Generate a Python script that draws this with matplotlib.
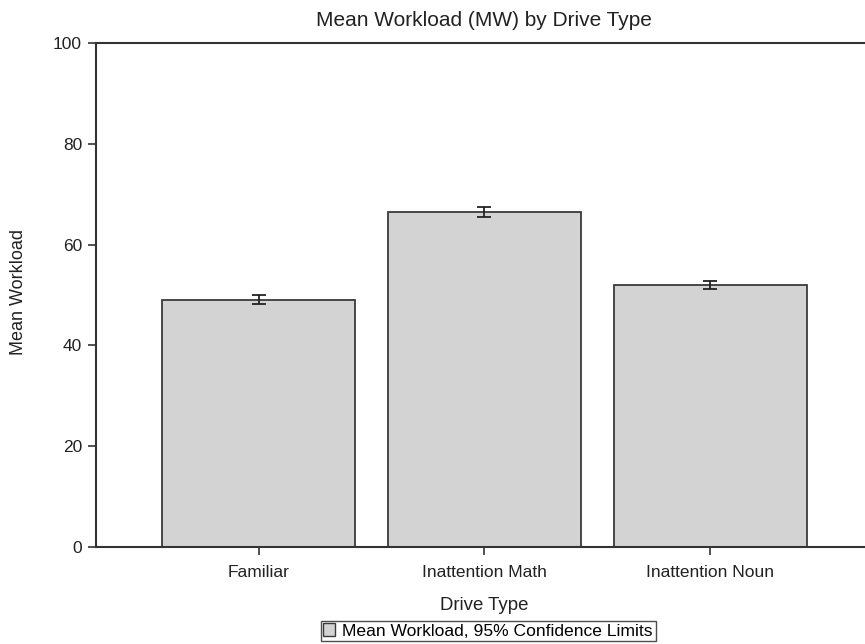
import matplotlib
matplotlib.use("Agg")
import matplotlib.pyplot as plt
from matplotlib.patches import Patch

categories = ["Familiar", "Inattention Math", "Inattention Noun"]
means = [49.0, 66.5, 52.0]
lower = [48.2, 65.5, 51.2]
upper = [50.0, 67.5, 52.8]
yticks = [0, 20, 40, 60, 80, 100]

plt.rcParams['font.family'] = ['Liberation Sans', 'DejaVu Sans']
W, H = 865, 644
fig = plt.figure(figsize=(W / 100, H / 100), dpi=100)
ax = fig.add_axes([96 / W, 1 - 547 / H, 777 / W, 504 / H])

x = list(range(len(categories)))
err = [[m - l for m, l in zip(means, lower)], [u - m for m, u in zip(means, upper)]]
ax.bar(x, means, width=0.853, color="#d3d3d3", edgecolor="#3a3a3a", linewidth=1.3, zorder=2)
ax.errorbar(x, means, yerr=err, fmt="none", ecolor="#222222", elinewidth=1.3,
            capsize=5, capthick=1.3, zorder=3)

ax.set_xlim(-0.72, 2.72)
ax.set_ylim(0, 100)
ax.set_xticks(x)
ax.set_xticklabels(categories, fontsize=12.5, color="#222222")
ax.set_yticks(yticks)
ax.set_yticklabels([str(t) for t in yticks], fontsize=12.5, color="#222222")
ax.tick_params(direction="out", length=6, width=1.2, color="#333333")
ax.tick_params(axis="x", pad=7)
ax.tick_params(axis="y", pad=4)

for s in ["left", "bottom", "top"]:
    ax.spines[s].set_color("#333333")
    ax.spines[s].set_linewidth(1.5)
ax.spines["right"].set_visible(False)

fig.text(484 / W, 1 - 20 / H, "Mean Workload (MW) by Drive Type", fontsize=15,
         color="#222222", ha="center", va="center")
fig.text(484 / W, 1 - 605 / H, "Drive Type", fontsize=13.4, color="#222222",
         ha="center", va="center")
fig.text(19 / W, 1 - 292 / H, "Mean Workload", fontsize=13, color="#222222",
         ha="center", va="center", rotation=90)

handle = Patch(facecolor="#d3d3d3", edgecolor="#3a3a3a", linewidth=1.0)
leg = fig.legend([handle], ["Mean Workload, 95% Confidence Limits"], loc="center",
                 bbox_to_anchor=(488 / W, 1 - 631 / H), fontsize=12.6,
                 frameon=True, fancybox=False, borderpad=0.15, handlelength=0.7,
                 handleheight=0.7, handletextpad=0.4, borderaxespad=0)
leg.get_frame().set_edgecolor("#222222")
leg.get_frame().set_linewidth(1.0)

fig.savefig("out.png", dpi=100)
